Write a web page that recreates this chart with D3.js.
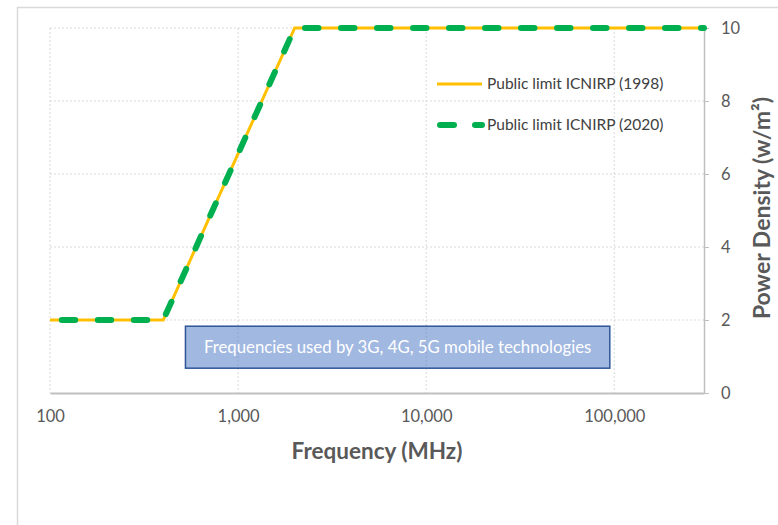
<!DOCTYPE html>
<html>
<head>
<meta charset="utf-8">
<script src="https://cdn.jsdelivr.net/npm/d3@7"></script>
<style>
  body { margin: 0; background: #fff; }
  text { font-family: Lato, "Open Sans", sans-serif; }
</style>
</head>
<body>
<script>
// ICNIRP public exposure limits, power density vs frequency

var freq1998 = [100, 400, 2000, 300000],
    dens1998 = [2, 2, 10, 10],
    freq2020 = [100, 400, 2000, 300000],
    dens2020 = [2, 2, 10, 10];

var xTicks = [100, 1000, 10000, 100000],
    yTicks = [0, 2, 4, 6, 8, 10];

var seriesNames = ['Public limit ICNIRP (1998)', 'Public limit ICNIRP (2020)'];

// annotation band: frequency range and y extent
var bandFreq = [525, 94700],
    bandY = [0.68, 1.83],
    bandLabel = 'Frequencies used by 3G, 4G, 5G mobile technologies';

var width = 778, height = 525;
var plotLeft = 50, plotRight = 704, plotTop = 28, plotBottom = 393;

var svg = d3.select('body').append('svg')
  .attr('width', width)
  .attr('height', height);

// outer chart border
svg.append('rect')
  .attr('x', 17.5).attr('y', 7.5)
  .attr('width', 800).attr('height', 560)
  .attr('fill', 'none')
  .attr('stroke', '#d9d9d9')
  .attr('stroke-width', 1.5);

var xScale = d3.scaleLog().domain([100, 300000]).range([plotLeft, plotRight]);
var yScale = d3.scaleLinear().domain([0, 10]).range([plotBottom, plotTop]);

// gridlines
svg.append('g').selectAll('line').data(xTicks).enter().append('line')
  .attr('x1', function(d){ return xScale(d); })
  .attr('x2', function(d){ return xScale(d); })
  .attr('y1', plotTop).attr('y2', plotBottom)
  .attr('stroke', '#d9d9d9').attr('stroke-dasharray', '2,2');

svg.append('g').selectAll('line').data(yTicks.filter(function(d){ return d > 0; })).enter().append('line')
  .attr('x1', plotLeft).attr('x2', plotRight)
  .attr('y1', function(d){ return yScale(d); })
  .attr('y2', function(d){ return yScale(d); })
  .attr('stroke', '#d9d9d9').attr('stroke-dasharray', '2,2');

// x axis
var xAxis = svg.append('g')
  .attr('transform', 'translate(0,' + plotBottom + ')')
  .call(d3.axisBottom(xScale).tickValues(xTicks).tickFormat(d3.format(',')).tickSize(0).tickPadding(17));
xAxis.select('.domain').attr('stroke', '#bfbfbf').attr('stroke-width', 2);
xAxis.selectAll('text').attr('fill', '#595959').style('font-size', '16.5px');

// y axis on the right
var yAxis = svg.append('g')
  .attr('transform', 'translate(' + plotRight + ',0)')
  .call(d3.axisRight(yScale).tickValues(yTicks).tickSize(5).tickSizeOuter(0).tickPadding(12));
yAxis.select('.domain').attr('stroke', '#bfbfbf').attr('stroke-width', 1.5);
yAxis.selectAll('.tick line').attr('stroke', '#bfbfbf');
yAxis.selectAll('text').attr('fill', '#595959').style('font-size', '16.5px');

// annotation box
var bx0 = xScale(bandFreq[0]), bx1 = xScale(bandFreq[1]);
var by0 = yScale(bandY[1]), by1 = yScale(bandY[0]);
svg.append('rect')
  .attr('x', bx0).attr('y', by0)
  .attr('width', bx1 - bx0).attr('height', by1 - by0)
  .attr('fill', '#4472c4').attr('fill-opacity', 0.5)
  .attr('stroke', '#2f5597').attr('stroke-width', 1.5);
svg.append('text')
  .attr('x', (bx0 + bx1) / 2).attr('y', (by0 + by1) / 2)
  .attr('text-anchor', 'middle').attr('dy', '0.35em')
  .attr('fill', '#fff').style('font-size', '16.8px')
  .text(bandLabel);

// lines
var line = d3.line()
  .x(function(d){ return xScale(d[0]); })
  .y(function(d){ return yScale(d[1]); });

svg.append('path')
  .datum(d3.zip(freq1998, dens1998))
  .attr('d', line)
  .attr('fill', 'none')
  .attr('stroke', '#ffc000')
  .attr('stroke-width', 3);

svg.append('path')
  .datum(d3.zip(freq2020, dens2020))
  .attr('d', line)
  .attr('fill', 'none')
  .attr('stroke', '#00b050')
  .attr('stroke-width', 6)
  .attr('stroke-linecap', 'round')
  .attr('stroke-linejoin', 'round')
  .attr('stroke-dasharray', '13.5,22.5')
  .attr('stroke-dashoffset', 24.25);

// legend
var lg = svg.append('g');
lg.append('line')
  .attr('x1', 437).attr('x2', 482).attr('y1', 84).attr('y2', 84)
  .attr('stroke', '#ffc000').attr('stroke-width', 3);
lg.append('line')
  .attr('x1', 440).attr('x2', 482).attr('y1', 125).attr('y2', 125)
  .attr('stroke', '#00b050').attr('stroke-width', 6)
  .attr('stroke-linecap', 'round')
  .attr('stroke-dasharray', '14,21');
lg.selectAll('text').data(seriesNames).enter().append('text')
  .attr('x', 487)
  .attr('y', function(d, i){ return 84 + i * 41; })
  .attr('dy', '0.35em')
  .attr('fill', '#404040')
  .style('font-size', '15.5px')
  .text(function(d){ return d; });

// axis titles
svg.append('text')
  .attr('x', 377).attr('y', 451)
  .attr('text-anchor', 'middle').attr('dy', '0.35em')
  .attr('fill', '#595959')
  .style('font-size', '22.5px').style('font-weight', 'bold')
  .text('Frequency (MHz)');

svg.append('text')
  .attr('transform', 'translate(762,208) rotate(-90)')
  .attr('text-anchor', 'middle').attr('dy', '0.35em')
  .attr('fill', '#595959')
  .style('font-size', '23px').style('font-weight', 'bold')
  .text('Power Density (w/m²)');
</script>
</body>
</html>
